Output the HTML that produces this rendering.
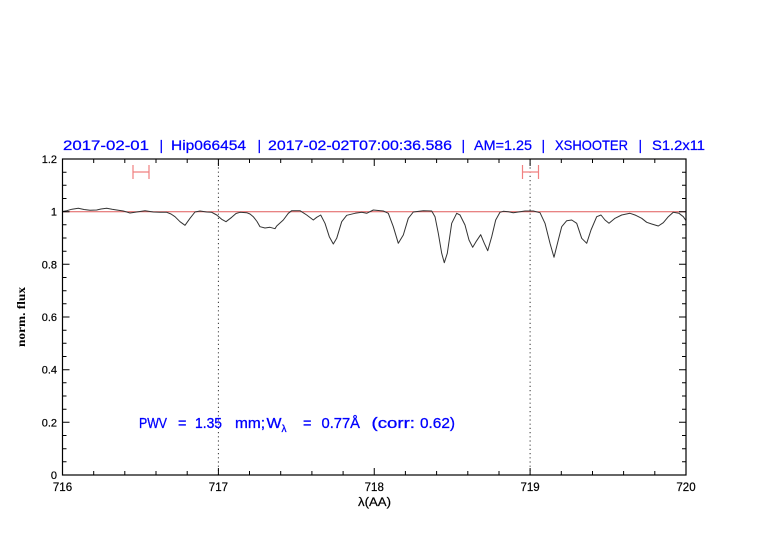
<!DOCTYPE html>
<html><head><meta charset="utf-8"><style>
html,body{margin:0;padding:0;background:#fff;}
svg{display:block;}
</style></head><body>
<svg width="782" height="542" viewBox="0 0 782 542" xmlns="http://www.w3.org/2000/svg">
<rect width="782" height="542" fill="#fff"/>
<!-- title -->
<g font-family="Liberation Sans, sans-serif" font-size="14" fill="#0000ff" stroke="#0000ff" stroke-width="0.25">
<text x="63" y="150" textLength="86" lengthAdjust="spacingAndGlyphs">2017-02-01</text>
<text x="159.5" y="150">|</text>
<text x="171" y="150" textLength="75" lengthAdjust="spacingAndGlyphs">Hip066454</text>
<text x="257.5" y="150">|</text>
<text x="268" y="150" textLength="184" lengthAdjust="spacingAndGlyphs">2017-02-02T07:00:36.586</text>
<text x="461.5" y="150">|</text>
<text x="474" y="150" textLength="58" lengthAdjust="spacingAndGlyphs">AM=1.25</text>
<text x="541.5" y="150">|</text>
<text x="555" y="150" textLength="73" lengthAdjust="spacingAndGlyphs">XSHOOTER</text>
<text x="638.5" y="150">|</text>
<text x="652" y="150" textLength="53" lengthAdjust="spacingAndGlyphs">S1.2x11</text>
</g>
<!-- reference line -->
<line x1="62.5" y1="211.7" x2="686" y2="211.7" stroke="#e05a5a" stroke-width="1"/>
<!-- dotted lines -->
<line x1="218.4" y1="159" x2="218.4" y2="475" stroke="#333" stroke-width="1" stroke-dasharray="1.2,3"/>
<line x1="530.1" y1="159" x2="530.1" y2="475" stroke="#333" stroke-width="1" stroke-dasharray="1.2,3"/>
<!-- red markers -->
<g stroke="#f08080" stroke-width="1.2" fill="none">
<path d="M133 165V179M149 165V179M133 172H149"/>
<path d="M522.5 165V179M538.5 165V179M522.5 172H538.5"/>
</g>
<!-- spectrum -->
<clipPath id="c"><rect x="62.5" y="159" width="623.5" height="316"/></clipPath>
<g clip-path="url(#c)">
<polyline id="spec" fill="none" stroke="#333" stroke-width="1" stroke-linejoin="round" points="
61.7,211.7 66.7,210.7 72,209.2 78.3,208.3 84,209.5 90,210.3 96.7,210 101,209 106.7,208.3 112,209.3 116.7,210 123.3,211 130,213 136.7,212 145,210.7 153.3,212 160,212.3 166.7,212.3 171,214 175,216.7 180,221.7 185,225.3 190,218.3 195,212 200,211 206.7,212 211.7,212.3 216.7,215 221.7,219.3 226,221.7 231.7,217.3 236,213.5 240,212.3 246.7,212.7 250,214 253.3,216.7 257,221.5 260,226.7 265,228 270,227.3 275,228.7
276.7,226 283.3,220 288.3,213.3 291.7,210.7 300,210.7 306.7,215 313.3,220 316.7,217.3 320.7,215 325,223.3 329.3,236.7 333.3,244 336.7,238.3 341.7,221.7 346.7,215.3 355,213.3 361.7,212.3 366.7,213.3 373.3,210 383.3,211 388.3,213.3 393.3,226.7 398.3,243.3 403.3,235 408.3,218.3 413.3,212 423.3,210.7 431.7,211 435,216.7 438.3,233.3 441.7,253.3 444.3,262.7 447.3,253.3 451.7,223.3 456.7,213.3 460,215 465,225 469,240 472.7,247.3 476,241.7 480.7,234.7
484.3,243.3 487.7,250.7 491.7,236.7 495.7,220 500,212.3 503.3,211.3 508.3,211.7 513.3,212.7 518.3,212 525,211 533.3,211 540,212.7 545,223.3 550,243.3 554,257.3 558.3,240 561.7,226.7 566.7,220.7 571.7,220 576.7,223.3 581.7,238.3 586.7,243.3 591,230 596.7,216.7 601,215 605,220 609,223.3 615,218.3 621.7,215 630,213.3 635,215 641.7,218.3 646.7,222.3 651.7,224 658.3,226 663.3,222.7 668.3,216.7 673.3,212.3 679,213.3 683.3,216.7 686.7,221.7"/>
</g>
<!-- frame -->
<rect x="62.5" y="159" width="623.5" height="316" fill="none" stroke="#000" stroke-width="1.2"/>
<!-- ticks -->
<g stroke="#000" stroke-width="1">
<path d="
M62.5 475v-7M93.7 475v-4M124.8 475v-4M156 475v-4M187.2 475v-4M218.4 475v-7M249.5 475v-4M280.7 475v-4M311.9 475v-4M343.1 475v-4M374.25 475v-7M405.4 475v-4M436.6 475v-4M467.8 475v-4M499 475v-4M530.1 475v-7M561.3 475v-4M592.5 475v-4M623.6 475v-4M654.8 475v-4
M62.5 159v7M93.7 159v4M124.8 159v4M156 159v4M187.2 159v4M218.4 159v7M249.5 159v4M280.7 159v4M311.9 159v4M343.1 159v4M374.25 159v7M405.4 159v4M436.6 159v4M467.8 159v4M499 159v4M530.1 159v7M561.3 159v4M592.5 159v4M623.6 159v4M654.8 159v4
"/>
<path d="
M62.5 475h7M62.5 461.8h4M62.5 448.7h4M62.5 435.5h4M62.5 422.3h7M62.5 409.2h4M62.5 396h4M62.5 382.8h4M62.5 369.7h7M62.5 356.5h4M62.5 343.3h4M62.5 330.2h4M62.5 317h7M62.5 303.8h4M62.5 290.7h4M62.5 277.5h4M62.5 264.3h7M62.5 251.2h4M62.5 238h4M62.5 224.8h4M62.5 211.7h7M62.5 198.5h4M62.5 185.3h4M62.5 172.2h4M62.5 159h7
M686 475h-7M686 461.8h-4M686 448.7h-4M686 435.5h-4M686 422.3h-7M686 409.2h-4M686 396h-4M686 382.8h-4M686 369.7h-7M686 356.5h-4M686 343.3h-4M686 330.2h-4M686 317h-7M686 303.8h-4M686 290.7h-4M686 277.5h-4M686 264.3h-7M686 251.2h-4M686 238h-4M686 224.8h-4M686 211.7h-7M686 198.5h-4M686 185.3h-4M686 172.2h-4M686 159h-7
"/>
</g>
<!-- y labels -->
<g font-family="Liberation Sans, sans-serif" font-size="11" fill="#000" stroke="#000" stroke-width="0.2" text-anchor="end">
<text x="57" y="479">0</text>
<text x="57" y="426.3">0.2</text>
<text x="57" y="373.7">0.4</text>
<text x="57" y="321">0.6</text>
<text x="57" y="268.3">0.8</text>
<text x="57" y="215.7">1</text>
<text x="57" y="163">1.2</text>
</g>
<!-- x labels -->
<g font-family="Liberation Sans, sans-serif" font-size="11.5" fill="#000" stroke="#000" stroke-width="0.2" text-anchor="middle">
<text x="62.5" y="491">716</text>
<text x="218.4" y="491">717</text>
<text x="374.25" y="491">718</text>
<text x="530.1" y="491">719</text>
<text x="686" y="491">720</text>
<text x="374.5" y="506" textLength="33" lengthAdjust="spacingAndGlyphs">λ(AA)</text>
</g>
<text transform="translate(25,317) rotate(-90)" font-family="Liberation Serif, serif" font-size="12" font-weight="bold" text-anchor="middle" textLength="60" lengthAdjust="spacingAndGlyphs">norm. flux</text>
<!-- PWV annotation -->
<g font-family="Liberation Sans, sans-serif" font-size="14.5" fill="#0000ff" stroke="#0000ff" stroke-width="0.3">
<text x="139" y="428" textLength="28" lengthAdjust="spacingAndGlyphs">PWV</text>
<text x="178" y="428">=</text>
<text x="195" y="428" textLength="27" lengthAdjust="spacingAndGlyphs">1.35</text>
<text x="235" y="428" textLength="30" lengthAdjust="spacingAndGlyphs">mm;</text>
<text x="266.5" y="428" textLength="15" lengthAdjust="spacingAndGlyphs">W</text>
<text x="281.5" y="432" font-size="10">λ</text>
<text x="303" y="428">=</text>
<text x="321.5" y="428" textLength="38.5" lengthAdjust="spacingAndGlyphs">0.77Å</text>
<text x="371.5" y="428" textLength="43.5" lengthAdjust="spacingAndGlyphs">(corr:</text>
<text x="420" y="428" textLength="35" lengthAdjust="spacingAndGlyphs">0.62)</text>
</g>
<script>
(function(){
try{
var pl=document.getElementById('spec');
var raw=pl.getAttribute('points').trim().split(/\s+/).map(function(s){var a=s.split(',');return [parseFloat(a[0]),parseFloat(a[1])];});
var d='M'+raw[0][0]+' '+raw[0][1];
for(var i=0;i<raw.length-1;i++){
var p0=raw[i-1]||raw[i],p1=raw[i],p2=raw[i+1],p3=raw[i+2]||p2;
var c1x=p1[0]+(p2[0]-p0[0])/6,c1y=p1[1]+(p2[1]-p0[1])/6;
var c2x=p2[0]-(p3[0]-p1[0])/6,c2y=p2[1]-(p3[1]-p1[1])/6;
d+='C'+c1x.toFixed(2)+' '+c1y.toFixed(2)+' '+c2x.toFixed(2)+' '+c2y.toFixed(2)+' '+p2[0]+' '+p2[1];
}
var p=document.createElementNS('http://www.w3.org/2000/svg','path');
p.setAttribute('d',d);p.setAttribute('fill','none');p.setAttribute('stroke','#333');p.setAttribute('stroke-width','1');
pl.parentNode.replaceChild(p,pl);
}catch(e){}
})();
</script>
</svg>
</body></html>
